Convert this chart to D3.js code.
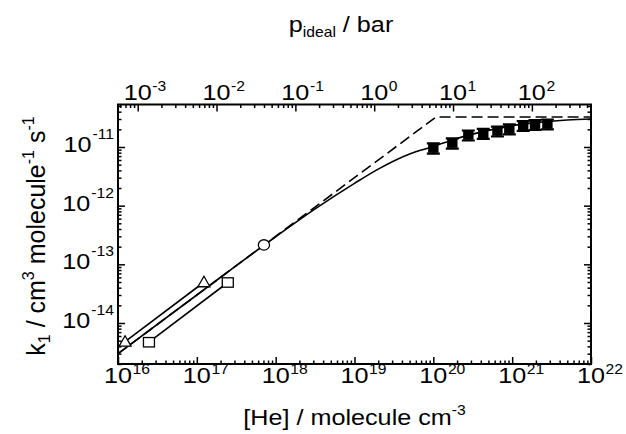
<!DOCTYPE html>
<html lang="en">
<head>
    <meta charset="UTF-8">
    <title>k1 vs [He]</title>
    <script src="https://d3js.org/d3.v7.min.js"></script>
    <style>
        body { margin: 0; background: white; }
        text { font-family: "Liberation Sans", Arial, sans-serif; fill: black; }
        .frame { fill: none; stroke: black; stroke-width: 2; }
        .axis path { display: none; }
        .axis line { stroke: black; stroke-width: 1.5; }
    </style>
</head>
<body>
<script>
    // ---- data ----
    const xTicks = [1e16, 1e17, 1e18, 1e19, 1e20, 1e21, 1e22];
    const yTicks = [1e-14, 1e-13, 1e-12, 1e-11];
    const pTicks = [1e-3, 1e-2, 1e-1, 1e0, 1e1, 1e2];
    const pConv = Math.pow(10, 19.25); // molecule cm^-3 per bar on the top axis

    // open triangles
    const triHe = [1.23e16, 1.23e17];
    const triK = [4.8e-15, 4.95e-14];
    // open squares
    const sqHe = [2.47e16, 2.47e17];
    const sqK = [4.7e-15, 4.9e-14];
    // open circle
    const circHe = [7.1e17];
    const circK = [2.14e-13];
    // filled squares (high pressure)
    const hpHe = [1.0e20, 1.74e20, 2.78e20, 4.3e20, 6.5e20, 9.2e20, 1.38e21, 1.95e21, 2.8e21];
    const hpK = [9.6e-12, 1.17e-11, 1.60e-11, 1.70e-11, 1.87e-11, 2.03e-11, 2.32e-11, 2.41e-11, 2.47e-11];
    const hpErr = [1.9e-12, 2.3e-12, 3.1e-12, 3.3e-12, 3.6e-12, 3.9e-12, 4.4e-12, 4.6e-12, 4.7e-12];

    // dashed limiting lines
    const dashHe = [1e16, 1.08e20, 1e22];
    const dashK = [3.0e-15, 3.24e-11, 3.24e-11];
    // solid fall-off curve
    const fitHe = [1e16, 1e17, 1e18, 3e18, 1e19, 2e19, 5e19, 1e20, 2e20, 5e20, 1e21, 2e21, 5e21, 1e22];
    const fitK = [3.0e-15, 3.0e-14, 2.95e-13, 8.4e-13, 2.4e-12, 4.2e-12, 7.6e-12, 1.02e-11, 1.4e-11, 1.92e-11, 2.3e-11, 2.6e-11, 2.88e-11, 3.0e-11];

    // ---- layout ----
    const W = 626, H = 434;
    const m = {left: 118, right: 591, top: 104.5, bottom: 364};
    const sx = 1.12; // glyphs in the figure are a little wide

    const svg = d3.select("body").append("svg")
        .attr("width", W).attr("height", H);

    const x = d3.scaleLog().domain([1e16, 1e22]).range([m.left, m.right]);
    const xTop = d3.scaleLog().domain([1e16 / pConv, 1e22 / pConv]).range([m.left, m.right]);
    const y = d3.scaleLog().domain([2.0e-15, 5.3e-11]).range([m.bottom, m.top]);

    const isPow = v => Math.abs(Math.log10(v) - Math.round(Math.log10(v))) < 1e-6;
    const xMinor = x.ticks().filter(v => !isPow(v));
    const yMinor = y.ticks().filter(v => !isPow(v));
    const pMinor = xTop.ticks().filter(v => !isPow(v));

    // ticks, all pointing inward
    function ticks(axisFn, scale, major, minor, transform) {
        svg.append("g").attr("class", "axis").attr("transform", transform)
            .call(axisFn(scale).tickValues(minor).tickSize(-3.5).tickFormat(""));
        svg.append("g").attr("class", "axis").attr("transform", transform)
            .call(axisFn(scale).tickValues(major).tickSize(-7).tickFormat(""));
    }
    ticks(d3.axisBottom, x, xTicks, xMinor, `translate(0,${m.bottom})`);
    ticks(d3.axisTop, xTop, pTicks, pMinor, `translate(0,${m.top})`);
    ticks(d3.axisLeft, y, yTicks, yMinor, `translate(${m.left},0)`);
    ticks(d3.axisRight, y, yTicks, yMinor, `translate(${m.right},0)`);

    svg.append("rect").attr("class", "frame")
        .attr("x", m.left).attr("y", m.top)
        .attr("width", m.right - m.left).attr("height", m.bottom - m.top);

    // "10" centred on the tick, exponent to its right
    function powLabel(px, py, exp) {
        const g = svg.append("g").attr("transform", `translate(${px},${py}) scale(${sx},1)`);
        const base = g.append("text").attr("font-size", 22.5).attr("text-anchor", "middle").text("10");
        const half = base.node().getComputedTextLength() / 2;
        g.append("text").attr("font-size", 14).attr("x", half + 0.5).attr("y", -9.5).text(exp);
    }
    xTicks.forEach(v => powLabel(x(v), m.bottom + 19, Math.round(Math.log10(v))));
    pTicks.forEach(v => powLabel(xTop(v), m.top - 4.5, Math.round(Math.log10(v))));

    yTicks.forEach(v => {
        const g = svg.append("g").attr("transform", `translate(${m.left - 4},${y(v) + 5}) scale(${sx},1)`);
        const t = g.append("text").attr("font-size", 22.5).attr("text-anchor", "end");
        t.append("tspan").text("10");
        t.append("tspan").attr("font-size", 14).attr("dy", -13).attr("dx", 1).text(Math.round(Math.log10(v)));
    });

    // axis titles
    const bt = svg.append("g").attr("transform", `translate(${(m.left + m.right) / 2},425) scale(${sx},1)`)
        .append("text").attr("font-size", 22.5).attr("text-anchor", "middle");
    bt.append("tspan").text("[He] / molecule cm");
    bt.append("tspan").attr("font-size", 14).attr("dy", -10).text("-3");

    const tt = svg.append("g").attr("transform", `translate(341,32) scale(${sx},1)`)
        .append("text").attr("font-size", 22.5).attr("text-anchor", "middle");
    tt.append("tspan").text("p");
    tt.append("tspan").attr("font-size", 14).attr("dy", 5).text("ideal");
    tt.append("tspan").attr("dy", -5).text(" / bar");

    const lt = svg.append("g").attr("transform", `translate(45,236) rotate(-90)`)
        .append("text").attr("font-size", 25).attr("text-anchor", "middle");
    lt.append("tspan").text("k");
    lt.append("tspan").attr("font-size", 16).attr("dy", 5).text("1");
    lt.append("tspan").attr("dy", -5).text(" / cm");
    lt.append("tspan").attr("font-size", 16).attr("dy", -11).text("3");
    lt.append("tspan").attr("dy", 11).text(" molecule");
    lt.append("tspan").attr("font-size", 16).attr("dy", -11).text("-1");
    lt.append("tspan").attr("dy", 11).text(" s");
    lt.append("tspan").attr("font-size", 16).attr("dy", -11).text("-1");

    // ---- plot content ----
    svg.append("clipPath").attr("id", "clip").append("rect")
        .attr("x", m.left).attr("y", m.top).attr("width", m.right - m.left).attr("height", m.bottom - m.top);
    const inner = svg.append("g").attr("clip-path", "url(#clip)");

    const line = d3.line().x(d => x(d[0])).y(d => y(d[1]));
    const smooth = d3.line().x(d => x(d[0])).y(d => y(d[1])).curve(d3.curveMonotoneX);

    inner.append("path").datum(d3.zip(dashHe, dashK)).attr("d", line)
        .attr("fill", "none").attr("stroke", "black").attr("stroke-width", 1.6)
        .attr("stroke-dasharray", "11,5");
    inner.append("path").datum(d3.zip(fitHe, fitK)).attr("d", smooth)
        .attr("fill", "none").attr("stroke", "black").attr("stroke-width", 1.6);
    inner.append("path").datum(d3.zip(triHe, triK)).attr("d", line)
        .attr("fill", "none").attr("stroke", "black").attr("stroke-width", 1.6);
    inner.append("path").datum(d3.zip(sqHe, sqK)).attr("d", line)
        .attr("fill", "none").attr("stroke", "black").attr("stroke-width", 1.6);

    // error bars + filled squares
    const hp = d3.zip(hpHe, hpK, hpErr);
    const eb = inner.selectAll(".eb").data(hp).enter().append("g");
    eb.append("line")
        .attr("x1", d => x(d[0])).attr("x2", d => x(d[0]))
        .attr("y1", d => y(d[1] + d[2])).attr("y2", d => y(d[1] - d[2]))
        .attr("stroke", "black").attr("stroke-width", 2);
    [1, -1].forEach(s => eb.append("line")
        .attr("x1", d => x(d[0]) - 6.5).attr("x2", d => x(d[0]) + 6.5)
        .attr("y1", d => y(d[1] + s * d[2])).attr("y2", d => y(d[1] + s * d[2]))
        .attr("stroke", "black").attr("stroke-width", 2.2));
    eb.append("rect")
        .attr("x", d => x(d[0]) - 5.2).attr("y", d => y(d[1]) - 4.8)
        .attr("width", 10.4).attr("height", 9.6).attr("fill", "black");

    // open markers
    inner.selectAll(".tri").data(d3.zip(triHe, triK)).enter().append("path")
        .attr("d", d => {
            const cx = x(d[0]), cy = y(d[1]);
            return `M${cx - 6},${cy + 4.5}L${cx + 6},${cy + 4.5}L${cx},${cy - 6}Z`;
        })
        .attr("fill", "white").attr("stroke", "black").attr("stroke-width", 1.3);
    inner.selectAll(".sq").data(d3.zip(sqHe, sqK)).enter().append("rect")
        .attr("x", d => x(d[0]) - 5.5).attr("y", d => y(d[1]) - 4.7)
        .attr("width", 11).attr("height", 9.4)
        .attr("fill", "white").attr("stroke", "black").attr("stroke-width", 1.3);
    inner.selectAll(".circ").data(d3.zip(circHe, circK)).enter().append("ellipse")
        .attr("cx", d => x(d[0])).attr("cy", d => y(d[1]))
        .attr("rx", 5.6).attr("ry", 5.2)
        .attr("fill", "white").attr("stroke", "black").attr("stroke-width", 1.3);
</script>
</body>
</html>
